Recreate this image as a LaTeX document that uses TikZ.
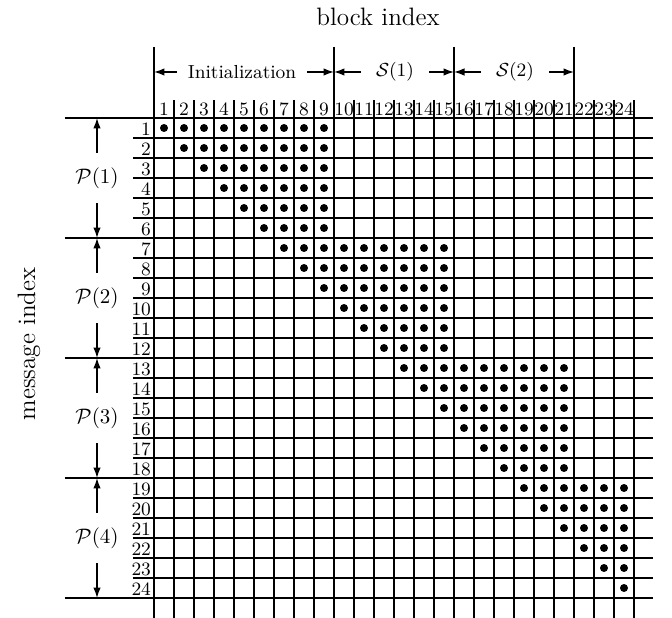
\documentclass[tikz,border=0pt]{standalone}
\usetikzlibrary{arrows.meta}

\tikzset{
    grid line/.style={line width=0.7pt},
    dim arrow/.style={line width=0.7pt, -{Latex[length=5pt,width=3.6pt]}},
    num/.style={font=\small, inner sep=0.3pt},
    hdr/.style={font=\small, inner xsep=5pt},
    part/.style={minimum height=0.84cm, inner sep=0pt}
}

\begin{document}
\begin{tikzpicture}[x=0.335cm, y=0.335cm]
    \useasboundingbox (-7.7,-25) rectangle (25.9,5.9);
    % 网格
    \foreach \i in {0,...,24} {
        \draw[grid line] (\i,0.9) -- (\i,-25);
        \draw[grid line] (-1.05,-\i) -- (24.95,-\i);
    }
    % 分段线
    \foreach \i in {0,9,15,21}
        \draw[grid line] (\i,3.55) -- (\i,0.9);
    \foreach \i in {0,6,12,18,24}
        \draw[grid line] (-4.45,-\i) -- (-1.05,-\i);

    % 编号
    \foreach \i in {1,...,24} {
        \node[num] (c\i) at (\i-0.5,0.45) {\i};
        \node[num, anchor=east] (r\i) at (-0.1,-\i+0.45) {\i};
    }

    % 点
    \foreach \r in {1,...,24} {
        \pgfmathtruncatemacro{\last}{min(24,9+6*int((\r-1)/6))}
        \foreach \c in {\r,...,\last}
            \fill (\c-0.5,-\r+0.5) circle (0.2);
    }

    % 列标题
    \foreach \i in {0,9,15,21}
        \coordinate (h\i) at (\i,2.3);
    \node[hdr] (init) at (4.4,2.3) {Initialization};
    \draw[dim arrow] (init.west) -- (h0);
    \draw[dim arrow] (init.east) -- (h9);
    \node[hdr, inner xsep=7pt] (s1) at (12.05,2.3) {$\mathcal{S}(1)$};
    \draw[dim arrow] (s1.west) -- (h9);
    \draw[dim arrow] (s1.east) -- (h15);
    \node[hdr, inner xsep=7pt] (s2) at (18.05,2.3) {$\mathcal{S}(2)$};
    \draw[dim arrow] (s2.west) -- (h15);
    \draw[dim arrow] (s2.east) -- (h21);

    % 行分组
    \foreach \k in {1,2,3,4} {
        \node[part] (p\k) at (-2.85,-6*\k+3) {$\mathcal{P}(\k)$};
        \coordinate (pt\k) at (-2.85,-6*\k+6);
        \coordinate (pb\k) at (-2.85,-6*\k);
        \draw[dim arrow] (p\k.north) -- (pt\k);
        \draw[dim arrow] (p\k.south) -- (pb\k);
    }

    % 轴标签
    \node[font=\large] (blk) at (11.2,5.08) {block index};
    \node[font=\large, rotate=90] (msg) at (-6.25,-11.3) {message index};
\end{tikzpicture}
\end{document}
